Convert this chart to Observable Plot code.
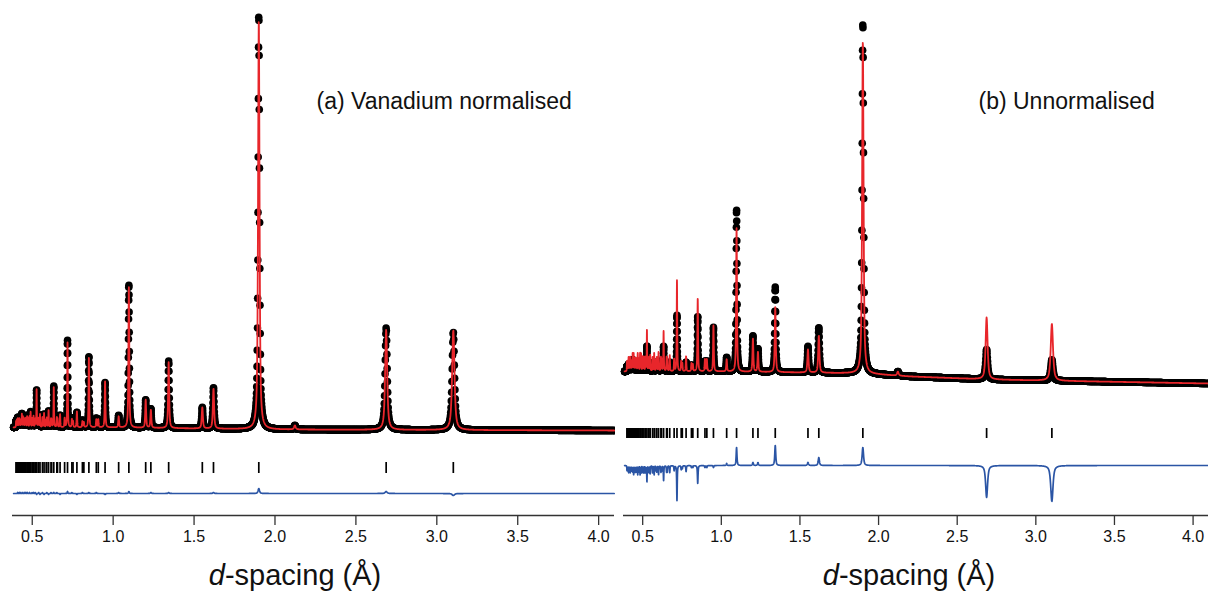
<!DOCTYPE html>
<html><head><meta charset="utf-8">
<script src="https://cdn.jsdelivr.net/npm/d3@7"></script>
<script src="https://cdn.jsdelivr.net/npm/@observablehq/plot@0.6"></script>
<style>
body{margin:0;background:#fff;font-family:"Liberation Sans",Arial,sans-serif;}
#wrap{position:relative;width:1208px;height:593px;overflow:hidden;background:#fff}
.panel{position:absolute;top:0}
.xlab{position:absolute;top:558px;font-size:29px;color:#111;white-space:nowrap;transform:translateX(-50%);line-height:34px}
</style></head><body>
<div id="wrap"></div>
<script>
// ---- data ----
const ticksX = [0.5, 1.0, 1.5, 2.0, 2.5, 3.0, 3.5, 4.0];
// reflection positions (d, Å)
const reflD = [3.102,2.687,1.900,1.620,1.551,1.343,1.233,1.201,1.097,1.034,0.950,0.908,0.896,0.850,0.819,0.810,0.776,0.752,0.745,0.718,0.700,0.672,0.656,0.652,0.633,0.620,0.616,0.601,0.590,0.586,0.573,0.563,0.548,0.540,0.537,0.527,0.519,0.517,0.508,0.501,0.499,0.490,0.484,0.483,0.475,0.469,0.468,0.461,0.456,0.454,0.448,0.443,0.442,0.436,0.432,0.430,0.425,0.421,0.420,0.415,0.411,0.410,0.405,0.402,0.400];
// (a) vanadium normalised: peak heights above background
const obsA  = [98,102,415,41,21,67,19,28,143,12,45,8,9,71,5,7,15,6,9,87,9,12,8,10,41,7,9,16,10,7,13,11,12,9,7,37,7,6,12,6,8,15,6,7,9,7,6,10,6,7,9,6,7,13,5,6,7,5,6,7,5,6,7,5,5];
const calcA = [100,100,410,40,21,66,18,28,141,11,46,8,8,70,5,6,16,6,8,85,9,13,8,9,40,7,8,17,9,7,14,10,13,8,7,38,6,6,11,6,7,15,6,6,9,6,6,9,6,6,9,6,6,13,5,5,7,5,5,7,5,5,7,5,5];
// (b) unnormalised
const obsB  = [21,30,351,45,26,85,23,36,162,14,44,10,10,55,5,6,9,5,6,56,7,9,6,7,25,6,7,10,7,6,9,7,8,6,6,25,5,5,7,5,6,10,5,5,6,5,5,6,5,5,6,5,5,11,4,4,5,4,4,5,4,4,5,4,4];
const calcB = [57,62,333,37,23,65,20,33,144,12,46,12,12,73,7,8,15,8,10,91,12,16,12,13,40,11,13,19,13,11,18,14,16,12,11,41,10,10,14,10,11,17,10,10,12,10,10,12,10,10,12,10,10,17,8,8,9,8,8,9,8,8,9,8,8];
// weak extra peak (no reflection tick)
const extraD = [2.123];
const extraA = [4], extraB = [4];
// backgrounds (knots)
const bgKnotsA = [0.385, 0.6, 1.0, 1.5, 2.0, 3.0, 4.1];
const bgValsA  = [3, 3, 3, 2, 1, 0.5, 0];
const bgKnotsB = [0.385, 0.6, 1.0, 1.5, 1.9, 2.2, 2.7, 3.2, 4.1];
const bgValsB  = [12, 12, 12, 11, 10, 7, 4, 2.5, 0];

// ---- profile construction ----
const D0 = 0.385, D1 = 4.098;
const grid = [];
for (let d = D0; d <= D1; d *= 1.0006) grid.push(d);
function bgAt(d, kd, kv) {
  if (d <= kd[0]) return kv[0];
  for (let i = 1; i < kd.length; i++) if (d <= kd[i]) {
    const t = (d - kd[i-1]) / (kd[i] - kd[i-1]);
    return kv[i-1] + t * (kv[i] - kv[i-1]);
  }
  return kv[kv.length - 1];
}
function prof(d, pos, h) {
  let s = 0;
  for (let i = 0; i < pos.length; i++) {
    const w = 0.0055 * pos[i], u = (d - pos[i]) / w;
    if (Math.abs(u) > 80) continue;
    s += h[i] * (0.7 / (1 + 4 * u * u) + 0.3 * Math.exp(-4 * Math.LN2 * u * u));
  }
  return s;
}
function series(obsH, calcH, extraH, kd, kv) {
  return grid.map(d => {
    const b = bgAt(d, kd, kv);
    const o = b + prof(d, reflD, obsH) + prof(d, extraD, extraH);
    const c = b + prof(d, reflD, calcH) + prof(d, extraD, extraH);
    return {d, obs: o, calc: c, diff: o - c};
  });
}
const dataA = series(obsA, calcA, extraA, bgKnotsA, bgValsA);
const dataB = series(obsB, calcB, extraB, bgKnotsB, bgValsB);

function panel({width, marginLeft, marginRight, yDomain, data, title, titleDx, tickY, diffOffset}) {
  return Plot.plot({
    width, height: 556,
    marginLeft, marginRight, marginTop: 0, marginBottom: 41,
    style: {background: "white", fontFamily: "Liberation Sans, Arial, sans-serif"},
    x: {domain: [0.378, 4.098]},
    y: {domain: yDomain, axis: null},
    marks: [
      Plot.ruleY([yDomain[0]], {stroke: "#333", strokeWidth: 1.3}),
      Plot.axisX({ticks: ticksX, tickFormat: d3.format(".1f"), tickSize: 10, tickPadding: 5,
        fontSize: 16, stroke: "#333", strokeWidth: 1.3, label: null, color: "#111"}),
      Plot.ruleX(reflD, {x: d => d, y1: tickY[0], y2: tickY[1], stroke: "#000", strokeWidth: 1.7}),
      Plot.line(data, {x: "d", y: r => r.diff + diffOffset, stroke: "#2b55a5", strokeWidth: 1.7}),
      Plot.dot(data, {x: "d", y: "obs", r: 3.8, fill: "#000", stroke: null}),
      Plot.line(data, {x: "d", y: "calc", stroke: "#e8262b", strokeWidth: 1.8}),
      Plot.text([title], {frameAnchor: "top-left", dx: titleDx, dy: 101, lineAnchor: "middle",
        textAnchor: "start", fontSize: 23, fill: "#111"})
    ]
  });
}

const wrap = document.getElementById("wrap");
const pa = panel({width: 615, marginLeft: 12, marginRight: 1, yDomain: [-85, 430], data: dataA,
  title: "(a) Vanadium normalised", titleDx: 304, tickY: [-32, -43], diffOffset: -63});
pa.classList.add("panel"); pa.style.left = "0px";
const pb = panel({width: 593, marginLeft: 8, marginRight: 0, yDomain: [-132, 383], data: dataB,
  title: "(b) Unnormalised", titleDx: 355, tickY: [-45, -55], diffOffset: -82});
pb.classList.add("panel"); pb.style.left = "615px";
wrap.appendChild(pa); wrap.appendChild(pb);
for (const cx of [295, 909]) {
  const l = document.createElement("div");
  l.className = "xlab"; l.style.left = cx + "px";
  l.innerHTML = "<i>d</i>-spacing (Å)";
  wrap.appendChild(l);
}
</script>
</body></html>
